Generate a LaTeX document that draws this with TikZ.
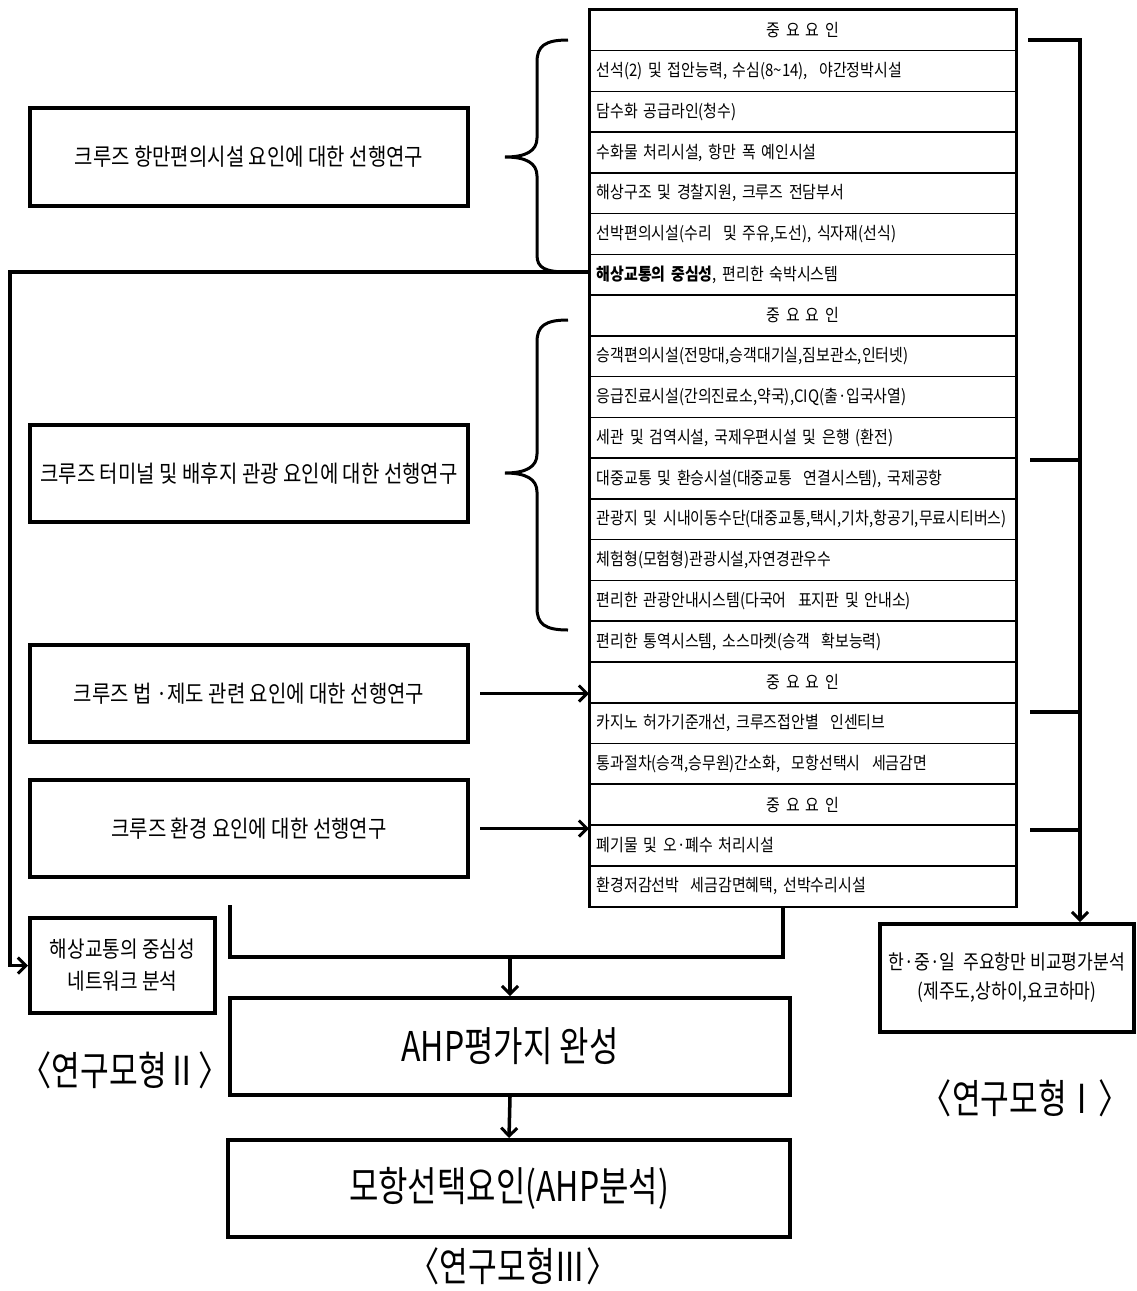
\documentclass[tikz,border=0pt]{standalone}
\usepackage{fontspec}
\setmainfont{Noto Sans CJK KR}
\newfontfamily\krrow{Noto Sans CJK KR}[FakeStretch=0.87]
\newfontfamily\krbox{Noto Sans CJK KR}[FakeStretch=0.85]
\newfontfamily\krbig{Noto Sans CJK KR}[FakeStretch=0.78]
\usetikzlibrary{arrows.meta}
\newcommand\tabrow[3]{\node[#1] (r#2) at (589,{9+(#2-1)*40.76}) {#3};}
\begin{document}
\begin{tikzpicture}[x=1pt,y=-1pt,
  tbl/.style={draw, line width=1.6pt, minimum height=40.76pt, inner xsep=7pt, inner ysep=0pt,
    text width=412pt, anchor=north west, font=\krrow\fontsize{17.2}{19}\selectfont},
  hdr/.style={tbl, align=center},
  itm/.style={tbl, align=left},
  bigbox/.style={draw, line width=4pt, inner sep=0pt, align=center},
  boxtxt/.style={font=\krbox\fontsize{23.5}{26}\selectfont},
  conn/.style={line width=3.5pt},
  arr/.style={conn, -{Straight Barb[length=8pt,width=16pt,line width=3pt]}},
  brace/.style={line width=3pt},
  lbl/.style={font=\krbig\fontsize{40}{44}\selectfont}
]
\fill[white] (0,0) rectangle (1136,1291);
\useasboundingbox (0,0) rectangle (1136,1291);

% table rows
\tabrow{hdr}{1}{중 요 요 인}
\tabrow{itm}{2}{선석(2) 및 접안능력, 수심(8\textasciitilde14), ~야간정박시설}
\tabrow{itm}{3}{담수화 공급라인(청수)}
\tabrow{itm}{4}{수화물 처리시설, 항만 폭 예인시설}
\tabrow{itm}{5}{해상구조 및 경찰지원, 크루즈 전담부서}
\tabrow{itm}{6}{선박편의시설(수리 ~및 주유,도선), 식자재(선식)}
\tabrow{itm}{7}{\textbf{해상교통의 중심성}, 편리한 숙박시스템}
\tabrow{hdr}{8}{중 요 요 인}
\tabrow{itm}{9}{승객편의시설(전망대,승객대기실,짐보관소,인터넷)}
\tabrow{itm}{10}{응급진료시설(간의진료소,약국),CIQ(출·입국사열)}
\tabrow{itm}{11}{세관 및 검역시설, 국제우편시설 및 은행 (환전)}
\tabrow{itm}{12}{대중교통 및 환승시설(대중교통 ~연결시스템), 국제공항}
\tabrow{itm}{13}{관광지 및 시내이동수단(대중교통,택시,기차,항공기,무료시티버스)}
\tabrow{itm}{14}{체험형(모험형)관광시설,자연경관우수}
\tabrow{itm}{15}{편리한 관광안내시스템(다국어 ~표지판 및 안내소)}
\tabrow{itm}{16}{편리한 통역시스템, 소스마켓(승객 ~확보능력)}
\tabrow{hdr}{17}{중 요 요 인}
\tabrow{itm}{18}{카지노 허가기준개선, 크루즈접안별 ~인센티브}
\tabrow{itm}{19}{통과절차(승객,승무원)간소화, ~모항선택시 ~세금감면}
\tabrow{hdr}{20}{중 요 요 인}
\tabrow{itm}{21}{폐기물 및 오·폐수 처리시설}
\tabrow{itm}{22}{환경저감선박 ~세금감면혜택, 선박수리시설}
\draw[line width=2pt] (r1.north west) rectangle (r22.south east);

% left boxes
\node[bigbox, boxtxt, minimum width=438pt, minimum height=98pt] (b1) at (249,157) {크루즈 항만편의시설 요인에 대한 선행연구};
\node[bigbox, boxtxt, minimum width=438pt, minimum height=97pt] (b2) at (249,473.5) {크루즈 터미널 및 배후지 관광 요인에 대한 선행연구};
\node[bigbox, boxtxt, minimum width=438pt, minimum height=97pt] (b3) at (249,693.5) {크루즈 법 ·제도 관련 요인에 대한 선행연구};
\node[bigbox, boxtxt, minimum width=438pt, minimum height=97pt] (b4) at (249,828.5) {크루즈 환경 요인에 대한 선행연구};
\node[bigbox, font=\krbox\fontsize{22.5}{32}\selectfont, minimum width=185pt, minimum height=95pt] (net) at (122.5,965.5) {해상교통의 중심성\\네트워크 분석};
\node[bigbox, font=\krbig\fontsize{41}{45}\selectfont, minimum width=560pt, minimum height=97pt] (ahp) at (510,1046.5) {AHP평가지 완성};
\node[bigbox, font=\krbig\fontsize{41}{45}\selectfont, minimum width=562pt, minimum height=97pt] (mh) at (509,1188.5) {모항선택요인(AHP분석)};
\node[bigbox, font=\krbox\fontsize{20.2}{29}\selectfont, minimum width=254pt, minimum height=108pt] (rb) at (1007,978) {한·중·일 ~주요항만 비교평가분석\\(제주도,상하이,요코하마)};

% labels
\node[lbl] (l2) at (125,1070) {〈연구모형Ⅱ〉};
\node[lbl] (l1) at (1025,1098) {〈연구모형Ⅰ〉};
\node[lbl] (l3) at (513,1266) {〈연구모형Ⅲ〉};

% braces
\draw[brace] (568,40) .. controls (545,40) and (537,46) .. (537,62) -- (537,138)
  .. controls (537,151) and (526,157) .. (505,157)
  .. controls (526,157) and (537,163) .. (537,176) -- (537,255)
  .. controls (537,268) and (545,272) .. (568,272);
\draw[brace] (568,320) .. controls (545,320) and (537,326) .. (537,342) -- (537,454)
  .. controls (537,467) and (526,473) .. (505,473)
  .. controls (526,473) and (537,479) .. (537,492) -- (537,608)
  .. controls (537,624) and (545,630) .. (568,630);

% connectors
\coordinate (lc) at (10,272);
\draw[arr] (r7.west |- lc) -- (lc) |- (net.west);
\draw[arr] (b3.east) ++(10,0) -- (b3.east -| r17.west);
\draw[arr] (b4.east) ++(10,0) -- (b4.east -| r20.west);

\coordinate (m1) at (230,905);
\coordinate (jn) at (783,957);
\draw[conn] (m1) |- (jn) -- (jn |- r22.south);
\draw[arr] (ahp.north |- jn) -- (ahp.north);
\draw[arr] (ahp.south) -- (mh.north);

\coordinate (rs) at (1028,40);
\coordinate (rt) at (1080,40);
\draw[arr] (rs) -- (rt) -- (rt |- rb.north);
\coordinate (t1) at (1030,460);
\coordinate (t2) at (1030,712);
\coordinate (t3) at (1030,830);
\draw[conn] (t1) -- (t1 -| rt);
\draw[conn] (t2) -- (t2 -| rt);
\draw[conn] (t3) -- (t3 -| rt);
\end{tikzpicture}
\end{document}
